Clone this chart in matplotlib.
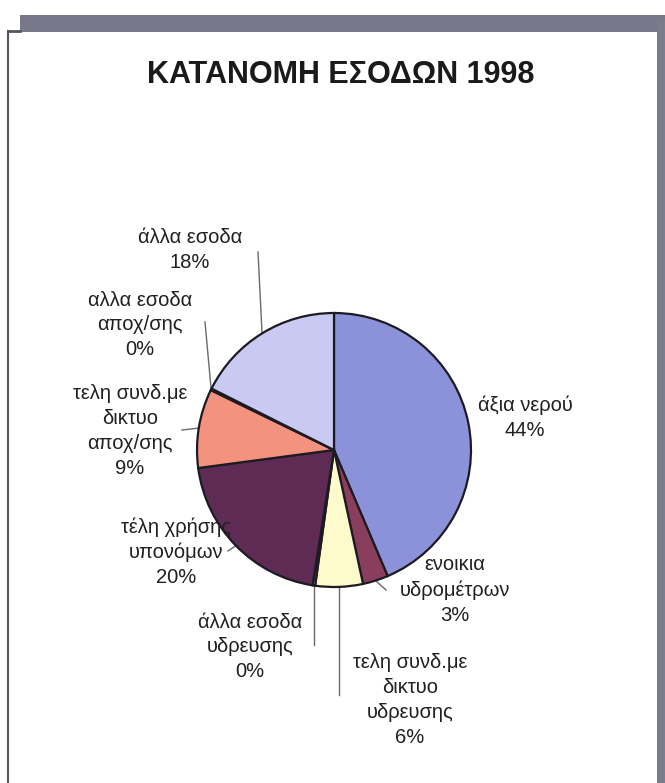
import numpy as np
import matplotlib
matplotlib.use("Agg")
import matplotlib.pyplot as plt
from matplotlib.patches import Rectangle

plt.rcParams['font.family'] = ['Liberation Sans', 'DejaVu Sans']

title = "ΚΑΤΑΝΟΜΗ ΕΣΟΔΩΝ 1998"
categories = ["άξια νερού", "ενοικια\nυδρομέτρων", "τελη συνδ.με\nδικτυο\nυδρευσης",
              "άλλα εσοδα\nυδρευσης", "τέλη χρήσης\nυπονόμων", "τελη συνδ.με\nδικτυο\nαποχ/σης",
              "αλλα εσοδα\nαποχ/σης", "άλλα εσοδα"]
values = [43.6, 3.0, 5.6, 0.3, 20.4, 9.3, 0.2, 17.6]
colors = ["#8c92da", "#8a3e5e", "#fdfbcb", "#9fd0e6", "#5e2b55", "#f2927f", "#d8d0f0", "#c9c9f1"]

W, H = 665, 783
fig = plt.figure(figsize=(W / 100, H / 100), dpi=100)
ax = fig.add_axes([0, 0, 1, 1])

def Y(p):
    return H - p

cx, cy, R = 334, Y(450), 137
wedges, _ = ax.pie(values, colors=colors, startangle=90, counterclock=False,
                   center=(cx, cy), radius=R,
                   wedgeprops=dict(edgecolor="#1e1a22", linewidth=1.6))
ax.set_xlim(0, W)
ax.set_ylim(0, H)
ax.set_aspect('equal')
ax.axis('off')

# label layout: (text center x, text center y, leader end x or 'v' for vertical, leader end y)
layout = [
    (525, 418, None, None, False),
    (455, 590, 386, 590, True),
    (410, 700, 'v', 695, True),
    (250, 647, 'v', 645, True),
    (176, 552, 228, 551, True),
    (130, 431, 182, 430, True),
    (140, 325, 205, 322, True),
    (190, 250, 258, 252, True),
]

for w, name, v, (tx, ty, lx, ly, has_line) in zip(wedges, categories, values, layout):
    mid = np.deg2rad((w.theta1 + w.theta2) / 2)
    ex, ey = cx + R * np.cos(mid), cy + R * np.sin(mid)
    if has_line:
        endx = ex if lx == 'v' else lx
        ax.plot([ex, endx], [ey, Y(ly)], color="#6a6a6a", lw=1.0, zorder=0)
    ax.text(tx, Y(ty), f"{name}\n{round(v)}%", ha='center', va='center',
            fontsize=14.5, color="#202020", linespacing=1.38)

ax.text(341, Y(75), title, ha='center', va='center', fontsize=22,
        fontweight='bold', color="#1a1a1a")

# frame
ax.add_patch(Rectangle((20, Y(32)), W - 20, 17, color="#78788a", lw=0))
ax.add_patch(Rectangle((657, 0), 8, Y(20), color="#7c7c8c", lw=0))
ax.plot([8, 8], [0, Y(31)], color="#555560", lw=1.5)
ax.plot([8, 20], [Y(31), Y(31)], color="#555560", lw=2)

fig.savefig("out.png", dpi=100)
